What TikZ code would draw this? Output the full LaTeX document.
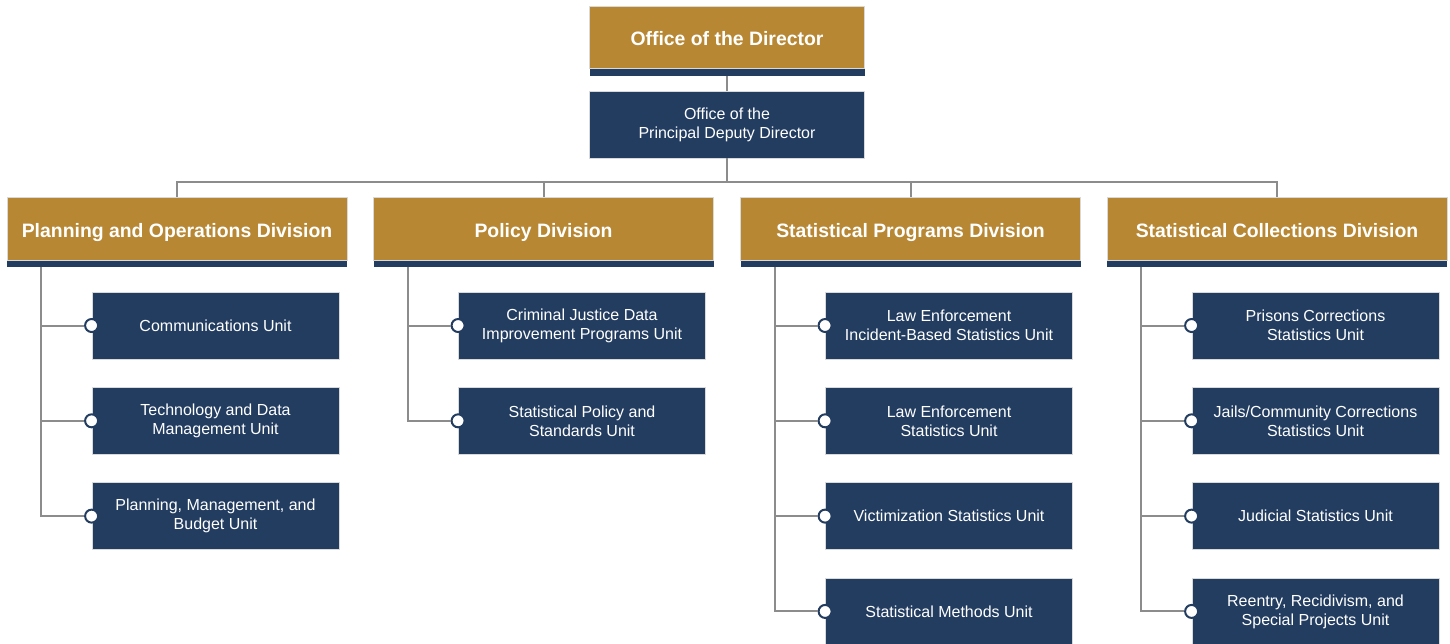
\documentclass[tikz,border=0pt]{standalone}
\usepackage{fontspec}
\setmainfont{Liberation Sans}
\usetikzlibrary{positioning}
\definecolor{bjsgold}{RGB}{183,135,52}
\definecolor{bjsnavy}{RGB}{35,61,97}
\definecolor{linkgray}{RGB}{140,140,140}
\tikzset{
  divbox/.style={rectangle, fill=bjsgold, draw=black!15, line width=0.4pt, text=white,
    font=\fontsize{9.7}{11}\selectfont\bfseries, text height=8.5pt, text depth=0pt,
    minimum width=170pt, minimum height=31.5pt, inner sep=0pt},
  barbox/.style={rectangle, fill=bjsnavy, minimum width=170pt, minimum height=3pt, inner sep=0pt},
  unitbox/.style={rectangle, fill=bjsnavy, draw=black!15, line width=0.4pt, text=white, align=center,
    font=\fontsize{8}{9.5}\selectfont, minimum width=123.5pt, minimum height=33.5pt, inner sep=0pt},
  dot/.style={circle, fill=white, draw=bjsnavy, line width=1pt, minimum size=6.5pt, inner sep=0pt},
  link/.style={draw=linkgray, line width=1pt}
}

\begin{document}
\begin{tikzpicture}[x=0.5pt,y=-0.5pt]
    \useasboundingbox (0,0) rectangle (1450,643);
    \clip (0,0) rectangle (1450,643);

    % Director and deputy
    \node[divbox, minimum width=137.5pt, minimum height=31pt] (dir) at (727,37) {Office of the Director};
    \node[barbox, minimum width=137.5pt, minimum height=3.5pt, below=0pt of dir] (dirbar) {};
    \node[unitbox, minimum width=137.5pt] (dep) at (727,124.5) {Office of the\\Principal Deputy Director};
    \coordinate (bus) at (727,182);
    \draw[link] (dirbar.south) -- (dep.north);
    \draw[link] (dep.south) -- (bus);

    % Divisions
    \foreach \d/\x/\title in {d1/177/Planning and Operations Division, d2/543.5/Policy Division,
        d3/910.5/Statistical Programs Division, d4/1277/Statistical Collections Division} {
            \node[divbox] (\d) at (\x,228.5) {\title};
            \node[barbox, below=0pt of \d] (\d bar) {};
            \draw[link] (bus) -| (\d.north);
        }

    % Units with their dots
    \foreach \d/\n/\txt in {
        d1/1/{Communications Unit},
        d1/2/{Technology and Data\\Management Unit},
        d1/3/{Planning, Management, and\\Budget Unit},
        d2/1/{Criminal Justice Data\\Improvement Programs Unit},
        d2/2/{Statistical Policy and\\Standards Unit},
        d3/1/{Law Enforcement\\Incident-Based Statistics Unit},
        d3/2/{Law Enforcement\\Statistics Unit},
        d3/3/{Victimization Statistics Unit},
        d3/4/{Statistical Methods Unit},
        d4/1/{Prisons Corrections\\Statistics Unit},
        d4/2/{Jails/Community Corrections\\Statistics Unit},
        d4/3/{Judicial Statistics Unit},
        d4/4/{Reentry, Recidivism, and\\Special Projects Unit}} {
            \node[unitbox] (\d u\n) at ([shift={(38.5,{97+95.3*(\n-1)})}]\d.center) {\txt};
            \node[dot] (\d u\n dot) at (\d u\n.west) {};
            \draw[link] ([xshift=-68pt]\d bar.south) |- (\d u\n dot.west);
        }
\end{tikzpicture}
\end{document}
